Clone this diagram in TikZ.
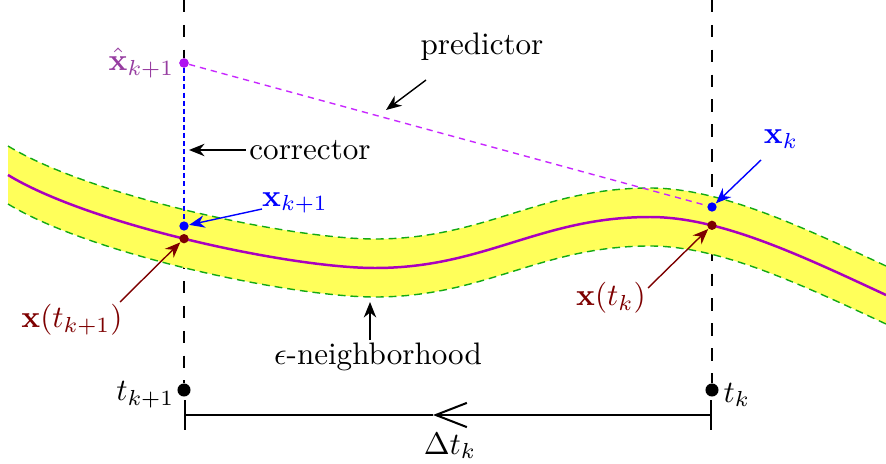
\documentclass[tikz,border=0pt]{standalone}
\usepackage{amsmath,amssymb}
\usepackage{tikz}
\usetikzlibrary{arrows.meta, intersections, calc}
\definecolor{bandyellow}{RGB}{255,255,90}
\definecolor{bandgreen}{RGB}{20,170,20}
\definecolor{curvepurple}{RGB}{170,0,190}
\definecolor{predmagenta}{RGB}{200,40,255}
\definecolor{hatpurple}{RGB}{150,60,160}
\definecolor{dotviolet}{RGB}{175,20,240}
\definecolor{trajred}{RGB}{125,0,0}
\tikzset{
	timeline/.style={line width=0.5pt, dash pattern=on 4pt off 4pt},
	bandedge/.style={bandgreen, line width=0.45pt, dash pattern=on 2.5pt off 1.6pt},
	dot/.style={circle, inner sep=0pt, minimum size=3pt},
	tdot/.style={circle, fill=black, inner sep=0pt, minimum size=4.2pt},
	myarrow/.style={-{Stealth[length=5pt,width=4pt]}, line width=0.45pt},
	lbl/.style={inner sep=1pt}
}
\begin{document}
\begin{tikzpicture}[x=0.0113cm, y=-0.0113cm]
	\useasboundingbox (0,0) rectangle (886,463);
	
	%% time coordinates
	\coordinate (ltop) at (184,0);
	\coordinate (rtop) at (712,0);
	\node[tdot] (tk1) at (184,390) {};
	\node[tdot] (tk) at (712,390) {};
	\node[dot, fill=dotviolet] (xhat) at (184,63) {};
	\node[dot, fill=blue] (xk1) at (184,226) {};
	\node[dot, fill=blue] (xk) at (712,207) {};
	
	%% vertical dashed lines
	\draw[timeline] (ltop) -- (xhat);
	\draw[timeline] (xk1) -- (tk1);
	\draw[timeline] (rtop) -- (tk);
	\path[name path=vl] (184,0) -- (184,463);
	\path[name path=vr] (712,0) -- (712,463);
	
	%% epsilon band
	\fill[bandyellow] (8,146) .. controls (90,196) and (290,239) .. (375,239)
	.. controls (485,239) and (540,188) .. (650,188)
	.. controls (720,188) and (800,226) .. (886,266)
	-- (886,324) .. controls (800,284) and (720,246) .. (650,246)
	.. controls (540,246) and (485,297) .. (375,297)
	.. controls (290,297) and (90,254) .. (8,204) -- cycle;
	\draw[bandedge] (8,146) .. controls (90,196) and (290,239) .. (375,239)
	.. controls (485,239) and (540,188) .. (650,188)
	.. controls (720,188) and (800,226) .. (886,266);
	\draw[bandedge] (8,204) .. controls (90,254) and (290,297) .. (375,297)
	.. controls (485,297) and (540,246) .. (650,246)
	.. controls (720,246) and (800,284) .. (886,324);
	
	%% solution curve
	\draw[curvepurple, line width=0.8pt, name path=traj]
	(8,175) .. controls (90,225) and (290,268) .. (375,268)
	.. controls (485,268) and (540,217) .. (650,217)
	.. controls (720,217) and (800,255) .. (886,295);
	\path[name intersections={of=traj and vl, by=ileft}];
	\path[name intersections={of=traj and vr, by=iright}];
	
	%% predictor / corrector steps
	\draw[predmagenta, line width=0.45pt, dash pattern=on 2pt off 1.6pt] (xhat) -- (xk);
	\draw[blue, line width=0.45pt, dash pattern=on 1.6pt off 1pt] (xhat) -- (xk1);
	\node[dot, fill=dotviolet] at (xhat) {};
	\node[dot, fill=blue] at (xk1) {};
	\node[dot, fill=blue] at (xk) {};
	\node[dot, fill=trajred] (xtk1) at (ileft) {};
	\node[dot, fill=trajred] (xtk) at (iright) {};
	
	%% labels
	\node[lbl, hatpurple, anchor=east] (xhatlbl) at (178,63) {$\hat{\mathbf{x}}_{k+1}$};
	\node[lbl, blue] (xk1lbl) at (295,203) {$\mathbf{x}_{k+1}$};
	\node[lbl, blue] (xklbl) at (781,139) {$\mathbf{x}_{k}$};
	\node[lbl, trajred] (xtk1lbl) at (72,320) {$\mathbf{x}(t_{k+1})$};
	\node[lbl, trajred] (xtklbl) at (611,298) {$\mathbf{x}(t_{k})$};
	\node[lbl] (predlbl) at (482,47) {predictor};
	\node[lbl] (corrlbl) at (310,150) {corrector};
	\node[lbl] (epslbl) at (378,357) {$\epsilon$-neighborhood};
	\node[lbl, anchor=east] (tk1lbl) at (178,395) {$t_{k+1}$};
	\node[lbl, anchor=west] (tklbl) at (720,395) {$t_{k}$};
	
	%% pointer arrows
	\coordinate (predtail) at (426,80);
	\coordinate (predhead) at (386,110);
	\coordinate (corrhead) at (189,150);
	\coordinate (epstail) at (370,340);
	\coordinate (epshead) at (370,302);
	\draw[myarrow] (predtail) -- (predhead);
	\draw[myarrow] (corrlbl.west) -- (corrhead);
	\draw[myarrow] (epstail) -- (epshead);
	\draw[myarrow, blue] (262,209) -- (xk1);
	\draw[myarrow, blue] (761,160) -- (xk);
	\draw[myarrow, trajred] (120,302) -- (xtk1);
	\draw[myarrow, trajred] (648,288) -- (xtk);
	
	%% step length
	\coordinate (lbar) at (184,415);
	\coordinate (rbar) at (712,415);
	\coordinate (dmid) at (433,415);
	\draw[line width=0.65pt, {Bar[width=9.6pt]}-{Straight Barb[length=10pt,width=7.8pt]}] (rbar) -- (dmid);
	\draw[line width=0.65pt, -{Bar[width=9.6pt]}] (dmid) -- (lbar);
	\node[lbl] (dtlbl) at (450,446) {$\Delta t_{k}$};
\end{tikzpicture}
\end{document}
